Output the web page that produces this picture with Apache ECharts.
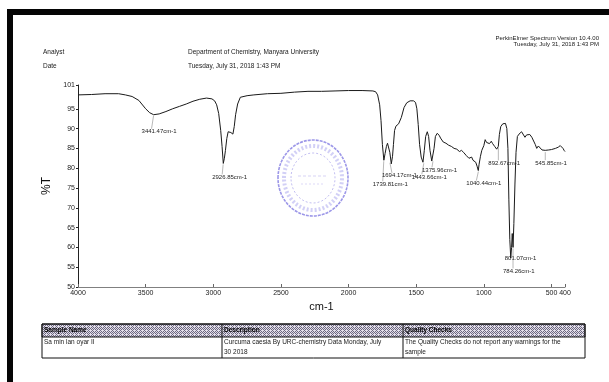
<!DOCTYPE html>
<html>
<head>
<meta charset="utf-8">
<script src="https://cdn.jsdelivr.net/npm/echarts@6.0.0/dist/echarts.min.js"></script>
<style>
  html, body { margin: 0; padding: 0; background: #fff; }
  #chart { width: 609px; height: 382px; }
</style>
</head>
<body>
<div id="chart"></div>
<script>
// spectrum: wavenumber (cm-1) and %T
const wavenumbers = [
  4000, 3900, 3800, 3700, 3650, 3600, 3550, 3500, 3470, 3441, 3400, 3350, 3300, 3250, 3200, 3150, 3100, 3050,
  3010, 2990, 2975, 2960, 2945, 2935, 2926, 2918, 2910, 2900, 2890, 2880, 2870, 2855, 2845, 2835, 2820, 2800,
  2750, 2700, 2600, 2500, 2400, 2300, 2200, 2100, 2000, 1900, 1820, 1800, 1785, 1770, 1760, 1750, 1739, 1730,
  1720, 1712, 1705, 1695, 1684, 1675, 1668, 1660, 1650, 1630, 1610, 1590, 1570, 1545, 1520, 1505, 1495, 1485,
  1475, 1463, 1450, 1440, 1430, 1418, 1408, 1398, 1385, 1376, 1368, 1358, 1345, 1330, 1320, 1300, 1280, 1260,
  1240, 1220, 1200, 1180, 1165, 1150, 1130, 1110, 1100, 1090, 1080, 1070, 1060, 1050, 1041, 1035, 1025, 1015,
  1000, 990, 980, 970, 958, 945, 935, 920, 905, 893, 885, 875, 860, 850, 840, 830, 822, 815, 808, 801,
  795, 790, 784, 778, 770, 762, 752, 740, 721, 708, 696, 684, 672, 660, 645, 634, 620, 609, 597, 585,
  570, 561, 546, 536, 520, 500, 487, 470, 450, 435, 425, 415, 405, 400
];
const transmittance = [
  98.5, 98.6, 98.8, 98.8, 98.5, 98.1, 97.1, 95.0, 94.0, 93.5, 93.7, 94.3, 95.0, 95.6, 96.2, 96.9, 97.4, 97.7,
  97.5, 97.0, 96.0, 93.8, 89.5, 85.5, 81.2, 82.5, 84.5, 87.5, 89.2, 89.7, 89.0, 88.6, 90.5, 93.5, 96.2, 97.9,
  98.3, 98.5, 98.8, 98.9, 99.2, 99.4, 99.4, 99.5, 99.6, 99.6, 99.5, 99.3, 98.5, 96.0, 92.0, 86.0, 82.0, 83.7,
  85.5, 86.3, 85.8, 84.0, 81.1, 83.0, 86.0, 89.5, 90.6, 91.2, 92.8, 95.3, 96.5, 97.0, 97.0, 96.6, 95.0, 91.0,
  86.0, 82.8, 81.5, 84.5, 88.0, 89.2, 88.0, 84.5, 81.8, 82.0, 85.0, 88.0, 88.8, 88.3, 87.6, 86.6, 86.3, 85.8,
  85.5, 85.0, 84.8, 84.2, 84.5, 84.0, 83.2, 82.5, 82.0, 82.8, 82.0, 82.4, 81.5, 80.5, 79.4, 81.0, 83.0, 84.5,
  85.7, 87.2, 86.5, 87.0, 86.2, 86.8, 86.2, 85.5, 84.8, 85.5, 88.5, 90.5, 91.2, 91.6, 91.3, 90.0, 85.0, 72.0, 62.0, 57.3,
  60.0, 63.5, 60.0, 66.0, 76.0, 84.0, 88.0, 88.6, 89.2, 88.8, 87.8, 88.4, 88.7, 88.5, 87.8, 87.4, 86.0, 85.0, 85.6, 85.3,
  84.6, 84.3, 84.5, 84.9, 84.6, 84.7, 84.6, 85.0, 85.3, 85.7, 86.1, 85.0, 84.4, 84.2
];

const xTicks = [4000, 3500, 3000, 2500, 2000, 1500, 1000, 500, 400];
const yTicks = [50, 55, 60, 65, 70, 75, 80, 85, 90, 95, 101];

// peak picks
const peakWn = [3441.47, 2926.85, 1739.81, 1694.17, 1443.66, 1375.96, 1040.44, 892.67, 801.07, 784.26, 545.85];
const peakT = [93.5, 81.2, 82.0, 81.6, 81.5, 82.0, 79.4, 85.5, 57.3, 60.0, 84.3];
const peakText = ['3441.47cm-1', '2926.85cm-1', '1739.81cm-1', '1694.17cm-1', '1443.66cm-1', '1375.96cm-1',
  '1040.44cm-1', '892.67cm-1', '801.07cm-1', '784.26cm-1', '545.85cm-1'];
// label offset from the peak, px
const peakDx = [-12, -11, -11, -8, -12, -11, -12, -10, -6, -10, -10];
const peakDy = [17, 14, 24, 14, 15, 10, 13, 17, 0, 24, 12];

const FONT = '"Liberation Sans", Arial, sans-serif';

// halftone-ish fill for the table header
const pat = document.createElement('canvas');
pat.width = 4; pat.height = 4;
const pc = pat.getContext('2d');
pc.fillStyle = '#e2dee9'; pc.fillRect(0, 0, 4, 4);
pc.fillStyle = '#6c6880';
pc.fillRect(0, 0, 1, 1); pc.fillRect(2, 0, 1, 1); pc.fillRect(1, 1, 1, 1); pc.fillRect(3, 1, 1, 1);
pc.fillRect(0, 2, 1, 1); pc.fillRect(1, 3, 1, 1); pc.fillRect(3, 3, 1, 1);

function txt(x, y, s, opt) {
  return {
    type: 'text', x: x, y: y, silent: true,
    style: Object.assign({ text: s, fill: '#1a1a1a', font: '6px ' + FONT, textVerticalAlign: 'middle' }, opt || {})
  };
}

const chart = echarts.init(document.getElementById('chart'), null, { renderer: 'canvas' });

const staticGraphics = [
  // scan frame
  { type: 'rect', shape: { x: 7, y: 9, width: 602, height: 6 }, style: { fill: '#050505' }, silent: true },
  { type: 'rect', shape: { x: 7, y: 9, width: 6, height: 373 }, style: { fill: '#050505' }, silent: true },
  // header
  txt(599, 38, 'PerkinElmer Spectrum Version 10.4.00', { textAlign: 'right' }),
  txt(599, 44, 'Tuesday, July 31, 2018 1:43 PM', { textAlign: 'right' }),
  txt(43, 52, 'Analyst', { font: '6.5px ' + FONT }),
  txt(43, 66, 'Date', { font: '6.5px ' + FONT }),
  txt(188, 52, 'Department of Chemistry, Manyara University', { font: '6.5px ' + FONT }),
  txt(188, 66, 'Tuesday, July 31, 2018 1:43 PM', { font: '6.5px ' + FONT }),
  // stamp
  { type: 'ellipse', shape: { cx: 313, cy: 178, rx: 35, ry: 38 }, silent: true,
    style: { fill: 'none', stroke: '#5a52d8', lineWidth: 1.6, opacity: 0.6, lineDash: [3, 1] } },
  { type: 'ellipse', shape: { cx: 313, cy: 178, rx: 29, ry: 32 }, silent: true,
    style: { fill: 'none', stroke: '#6a62e0', lineWidth: 4, opacity: 0.3, lineDash: [2, 2] } },
  { type: 'ellipse', shape: { cx: 313, cy: 178, rx: 22, ry: 25 }, silent: true,
    style: { fill: 'none', stroke: '#7a70e0', lineWidth: 1, opacity: 0.45, lineDash: [2, 2] } },
  { type: 'line', shape: { x1: 298, y1: 176, x2: 328, y2: 176 }, silent: true,
    style: { stroke: '#9a90e8', lineWidth: 1.2, opacity: 0.4, lineDash: [3, 2] } },
  { type: 'line', shape: { x1: 301, y1: 184, x2: 325, y2: 184 }, silent: true,
    style: { stroke: '#9a90e8', lineWidth: 1, opacity: 0.35, lineDash: [2, 2] } },
  // table
  { type: 'rect', shape: { x: 42, y: 324, width: 543, height: 13 }, silent: true,
    style: { fill: { image: pat, repeat: 'repeat' }, stroke: '#111', lineWidth: 1 } },
  { type: 'rect', shape: { x: 42, y: 324, width: 543, height: 34 }, silent: true,
    style: { fill: 'none', stroke: '#111', lineWidth: 1 } },
  { type: 'line', shape: { x1: 222, y1: 324, x2: 222, y2: 358 }, silent: true, style: { stroke: '#111', lineWidth: 1 } },
  { type: 'line', shape: { x1: 403, y1: 324, x2: 403, y2: 358 }, silent: true, style: { stroke: '#111', lineWidth: 1 } },
  txt(44, 330.5, 'Sample Name', { font: 'bold 6.5px ' + FONT, fill: '#000' }),
  txt(224, 330.5, 'Description', { font: 'bold 6.5px ' + FONT, fill: '#000' }),
  txt(405, 330.5, 'Quality Checks', { font: 'bold 6.5px ' + FONT, fill: '#000' }),
  txt(44, 342, 'Sa min lan oyar II', { font: '6.5px ' + FONT }),
  txt(224, 342, 'Curcuma caesia By URC-chemistry Data Monday, July', { font: '6.5px ' + FONT }),
  txt(224, 352, '30 2018', { font: '6.5px ' + FONT }),
  txt(405, 342, 'The Quality Checks do not report any warnings for the', { font: '6.5px ' + FONT }),
  txt(405, 352, 'sample', { font: '6.5px ' + FONT })
];

chart.setOption({
  backgroundColor: '#fff',
  animation: false,
  grid: { left: 78, right: 44, top: 85, bottom: 95 },
  xAxis: {
    type: 'value', min: 400, max: 4000, inverse: true,
    name: 'cm-1', nameLocation: 'middle', nameGap: 12,
    nameTextStyle: { fontSize: 11, color: '#111', fontFamily: FONT },
    axisLine: { lineStyle: { color: '#808080', width: 1 } },
    axisTick: { inside: true, length: 3, lineStyle: { color: '#666' }, customValues: xTicks },
    axisLabel: { customValues: xTicks, fontSize: 7, color: '#222', margin: 3, fontFamily: FONT,
      formatter: v => String(v) },
    splitLine: { show: false }
  },
  yAxis: {
    type: 'value', min: 50, max: 101,
    name: '%T', nameLocation: 'middle', nameGap: 22, nameRotate: 90,
    nameTextStyle: { fontSize: 12, color: '#111', fontFamily: FONT },
    axisLine: { show: true, lineStyle: { color: '#222', width: 1 } },
    axisTick: { show: true, length: 2, lineStyle: { color: '#222' }, customValues: yTicks },
    axisLabel: { customValues: yTicks, fontSize: 7, color: '#222', margin: 3, fontFamily: FONT,
      formatter: v => String(v) },
    splitLine: { show: false }
  },
  series: [{
    type: 'line',
    data: wavenumbers.map((w, i) => [w, transmittance[i]]),
    showSymbol: false,
    lineStyle: { color: '#1a1a1a', width: 1 },
    z: 3
  }],
  graphic: staticGraphics
});

// peak labels with little leader lines, placed from the data coordinates
const peakGraphics = [];
peakWn.forEach((w, i) => {
  const p = chart.convertToPixel({ seriesIndex: 0 }, [w, peakT[i]]);
  const lx = p[0] + peakDx[i];
  const ly = p[1] + peakDy[i];
  if (peakDy[i] > 4) {
    peakGraphics.push({ type: 'line', silent: true,
      shape: { x1: p[0], y1: p[1] + 1, x2: lx + 10, y2: ly - 3 },
      style: { stroke: '#888', lineWidth: 0.6 } });
  }
  peakGraphics.push(txt(lx, ly, peakText[i], { font: '6px ' + FONT, fill: '#222' }));
});
chart.setOption({ graphic: staticGraphics.concat(peakGraphics) });
</script>
</body>
</html>
